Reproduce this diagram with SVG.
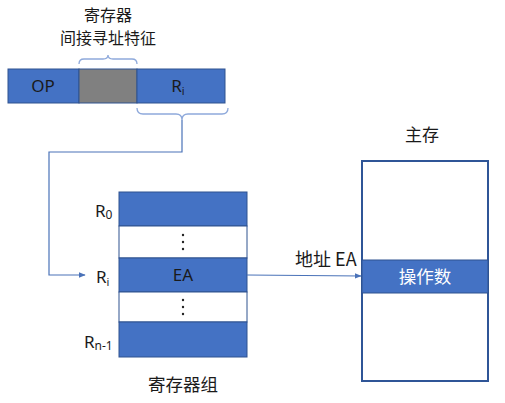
<svg xmlns="http://www.w3.org/2000/svg" width="505" height="403" viewBox="0 0 505 403">
<defs>
<style>
.blk{fill:#4472C4;stroke:#2F528F;stroke-width:1}
.wh{fill:#FFFFFF;stroke:#2F528F;stroke-width:1}
.t{font-family:"Noto Sans CJK SC","Noto Sans",sans-serif;font-size:16px;fill:#1A1A1A}
.w{fill:#FFFFFF}
.lt{font-family:"Noto Sans","Noto Sans CJK SC",sans-serif;font-size:17px;fill:#1A1A1A}
.con{fill:none;stroke:#4A72B8;stroke-width:1.2}
.br{fill:none;stroke:#8EA9DB;stroke-width:1.3}
.dot{fill:#222}
</style>
<marker id="ah" viewBox="0 0 10 10" refX="9" refY="5" markerWidth="7" markerHeight="7" markerUnits="userSpaceOnUse" orient="auto">
<path d="M0,1 L10,5 L0,9 z" fill="#4A72B8"/>
</marker>
</defs>

<g id="instruction">
<rect class="blk" x="8" y="69" width="71" height="34"/>
<rect x="79" y="69" width="58" height="34" fill="#808080" stroke="#2F528F"/>
<rect class="blk" x="137" y="69" width="88" height="34"/>
<text class="lt w" x="43" y="92" text-anchor="middle">OP</text>
<text class="lt w" x="178" y="92" text-anchor="middle">R<tspan style="font-size:11px" dy="3">i</tspan></text>
</g>

<g id="label-indirect">
<text class="t" x="108" y="21" text-anchor="middle">寄存器</text>
<text class="t" x="108" y="44" text-anchor="middle">间接寻址特征</text>
<path class="br" d="M79,64 Q79,59 84,59 L103,59 Q108,59 108,55 Q108,59 113,59 L132,59 Q137,59 137,64"/>
</g>

<g id="brace-ri">
<path class="br" d="M137,108 Q137,114 143,114 L176,114 Q182,114 182,120 Q182,114 188,114 L222,114 Q228,114 228,108"/>
</g>

<g id="register-file">
<rect class="blk" x="119" y="192" width="128" height="34"/>
<rect class="wh" x="119" y="226" width="128" height="32"/>
<rect class="blk" x="119" y="258" width="128" height="34"/>
<rect class="wh" x="119" y="292" width="128" height="30"/>
<rect class="blk" x="119" y="322" width="128" height="35"/>
<text class="lt w" x="183" y="281" text-anchor="middle">EA</text>
<circle class="dot" cx="183" cy="235" r="1.2"/>
<circle class="dot" cx="183" cy="242" r="1.2"/>
<circle class="dot" cx="183" cy="249" r="1.2"/>
<circle class="dot" cx="183" cy="300" r="1.2"/>
<circle class="dot" cx="183" cy="307" r="1.2"/>
<circle class="dot" cx="183" cy="314" r="1.2"/>
<text class="lt" x="95" y="217">R<tspan style="font-size:12px" dy="2">0</tspan></text>
<text class="lt" x="96" y="283">R<tspan style="font-size:11px" dy="3">i</tspan></text>
<text class="lt" x="84" y="348">R<tspan style="font-size:12px" dy="2">n-1</tspan></text>
<text class="t" x="183" y="391" text-anchor="middle" style="font-size:17.5px">寄存器组</text>
</g>

<g id="main-memory">
<rect x="362" y="161" width="126" height="220" fill="#FFFFFF" stroke="#2F5597" stroke-width="2"/>
<rect class="blk" x="362" y="260" width="126" height="33"/>
<text class="t w" x="425" y="283" text-anchor="middle" style="font-size:17.5px">操作数</text>
<text class="t" x="422" y="141" text-anchor="middle" style="font-size:17px">主存</text>
</g>

<g id="connectors">
<path class="con" d="M182,120 L182,152 L49,152 L49,275 L85,275" marker-end="url(#ah)"/>
<path class="con" d="M247,275 L361,276" marker-end="url(#ah)"/>
<text class="t" x="295" y="266" style="font-size:18px">地址 EA</text>
</g>
</svg>
